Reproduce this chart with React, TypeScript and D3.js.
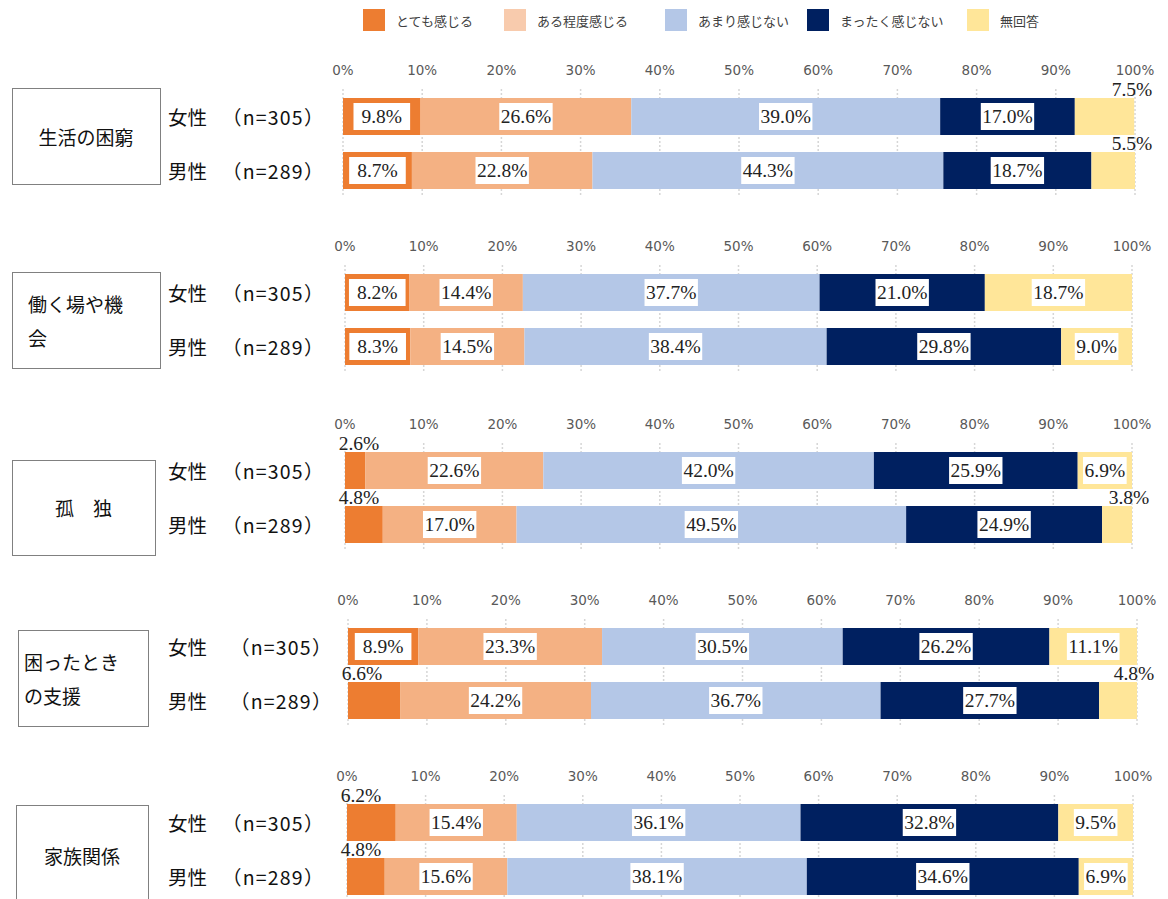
import { useEffect, useRef } from 'react';
import * as d3 from 'd3';

const seriesNames = ['とても感じる', 'ある程度感じる', 'あまり感じない', 'まったく感じない', '無回答'];
const seriesColors = ['#ED7D31', '#F4B183', '#B4C7E7', '#002060', '#FFE699'];
const legendColors = ['#ED7D31', '#F8CBAD', '#B4C7E7', '#002060', '#FFE699'];

const topicLines = [['生活の困窮'], ['働く場や機', '会'], ['孤　独'], ['困ったとき', 'の支援'], ['家族関係']];
const groups = ['女性', '男性'];
const groupN = ['（n=305）', '（n=289）'];

const femaleValues = [
  [9.8, 26.6, 39.0, 17.0, 7.5],
  [8.2, 14.4, 37.7, 21.0, 18.7],
  [2.6, 22.6, 42.0, 25.9, 6.9],
  [8.9, 23.3, 30.5, 26.2, 11.1],
  [6.2, 15.4, 36.1, 32.8, 9.5],
];
const maleValues = [
  [8.7, 22.8, 44.3, 18.7, 5.5],
  [8.3, 14.5, 38.4, 29.8, 9.0],
  [4.8, 17.0, 49.5, 24.9, 3.8],
  [6.6, 24.2, 36.7, 27.7, 4.8],
  [4.8, 15.6, 38.1, 34.6, 6.9],
];
const tickValues = [0, 10, 20, 30, 40, 50, 60, 70, 80, 90, 100];

// labels drawn above the bar instead of inside: [panel, row, series]
const outsideLabels = [
  [0, 0, 4], [0, 1, 4],
  [2, 0, 0], [2, 1, 0], [2, 1, 4],
  [3, 1, 0], [3, 1, 4],
  [4, 0, 0], [4, 1, 0],
];

// panel layout
const panels = [
  { tickY: 70, x0: 343, x1: 1135, box: [12, 88, 148, 96], multi: false, nX: 232 },
  { tickY: 246, x0: 345, x1: 1132, box: [12, 272, 148, 96], multi: true, nX: 232 },
  { tickY: 424, x0: 345, x1: 1132, box: [12, 460, 143, 95], multi: false, nX: 232 },
  { tickY: 600, x0: 348, x1: 1137, box: [18, 630, 130, 96], multi: true, nX: 240 },
  { tickY: 776, x0: 347, x1: 1133, box: [16, 805, 132, 110], multi: false, nX: 232 },
];

const legendX = [363, 504, 665, 807, 967];
const JP = '"Noto Sans CJK JP", "Noto Sans", sans-serif';
const NUM = '"Liberation Serif", serif';

export default function App() {
  const svgRef = useRef<SVGSVGElement>(null);

  useEffect(() => {
    document.body.style.margin = '0';
    if (!svgRef.current) return;
    const svg = d3.select(svgRef.current);
    svg.selectAll('*').remove();

    // legend
    const lg = svg.append('g');
    seriesNames.forEach((name, i) => {
      lg.append('rect').attr('x', legendX[i]).attr('y', 9).attr('width', 22).attr('height', 22)
        .attr('fill', legendColors[i]);
      lg.append('text').attr('x', legendX[i] + 33).attr('y', 20).attr('dominant-baseline', 'central')
        .attr('font-family', JP).attr('font-size', 13).attr('fill', '#404040').text(name);
    });

    const barH = 37;
    panels.forEach((p, pi) => {
      const g = svg.append('g');
      const x = d3.scaleLinear().domain([0, 100]).range([p.x0, p.x1]);
      const rowTops = [p.tickY + 28, p.tickY + 82];

      // grid
      g.selectAll('line.grid').data(tickValues).join('line')
        .attr('x1', d => x(d)).attr('x2', d => x(d))
        .attr('y1', rowTops[0] - 9).attr('y2', rowTops[1] + barH + 8)
        .attr('stroke', '#d6d6d6').attr('stroke-width', 1.5).attr('stroke-dasharray', '2,2');

      g.selectAll('text.tick').data(tickValues).join('text')
        .attr('x', d => x(d)).attr('y', p.tickY).attr('text-anchor', 'middle')
        .attr('dominant-baseline', 'central')
        .attr('font-family', '"DejaVu Sans", sans-serif').attr('font-size', 13.5).attr('fill', '#595959')
        .text(d => `${d}%`);

      // topic box
      const [bx, by, bw, bh] = p.box;
      g.append('rect').attr('x', bx + 0.5).attr('y', by + 0.5).attr('width', bw).attr('height', bh)
        .attr('fill', 'none').attr('stroke', '#808080').attr('stroke-width', 1);
      const lines = topicLines[pi];
      const cy = by + bh / 2 - (pi === 4 ? 5 : 0);
      lines.forEach((ln, li) => {
        const ly = lines.length === 1 ? cy : cy + (li === 0 ? -17 : 17);
        g.append('text')
          .attr('x', p.multi ? bx + (pi === 3 ? 6 : 16) : bx + bw / 2)
          .attr('y', ly).attr('dominant-baseline', 'central')
          .attr('text-anchor', p.multi ? 'start' : 'middle')
          .attr('font-family', JP).attr('font-size', 19).attr('fill', '#111').text(ln);
      });

      [femaleValues[pi], maleValues[pi]].forEach((vals, ri) => {
        const top = rowTops[ri];
        const mid = top + barH / 2;
        g.append('text').attr('x', 168).attr('y', mid).attr('dominant-baseline', 'central')
          .attr('font-family', JP).attr('font-size', 19.5).attr('fill', '#111').text(groups[ri]);
        g.append('text').attr('x', p.nX - 10).attr('y', mid).attr('dominant-baseline', 'central')
          .attr('font-family', JP).attr('font-size', 19.5).attr('letter-spacing', 1.2)
          .attr('fill', '#111').text(groupN[ri]);

        const starts = d3.cumsum([0, ...vals.slice(0, -1)]);
        const segs = vals.map((v, si) => ({ v, si, s: starts[si] }));
        g.selectAll(`rect.seg${ri}`).data(segs).join('rect')
          .attr('x', d => x(d.s)).attr('y', top)
          .attr('width', d => x(d.s + d.v) - x(d.s)).attr('height', barH)
          .attr('fill', d => seriesColors[d.si]);

        segs.forEach(d => {
          const outside = outsideLabels.some(o => o[0] === pi && o[1] === ri && o[2] === d.si);
          const label = d.v.toFixed(1) + '%';
          if (outside) {
            const lx = d.si === 0 ? x(0) + 14 : x(100) - 3;
            g.append('text').attr('x', lx).attr('y', top - 2).attr('text-anchor', 'middle')
              .attr('font-family', NUM).attr('font-size', 19.5).attr('fill', '#222').text(label);
            return;
          }
          const cx = (x(d.s) + x(d.s + d.v)) / 2;
          const t = g.append('text').attr('x', cx).attr('y', mid).attr('text-anchor', 'middle')
            .attr('dominant-baseline', 'central')
            .attr('font-family', NUM).attr('font-size', 19.5).attr('fill', '#222').text(label);
          const bb = (t.node() as SVGTextElement).getBBox();
          const w = bb.width + (d.si === 0 ? 16 : 3);
          g.insert('rect', () => t.node() as SVGTextElement)
            .attr('x', cx - w / 2).attr('y', top + 5).attr('width', w).attr('height', barH - 10)
            .attr('fill', '#fff');
        });
      });
    });
  }, []);

  return <svg ref={svgRef} width={1168} height={899} style={{ display: 'block', background: '#fff' }} />;
}
